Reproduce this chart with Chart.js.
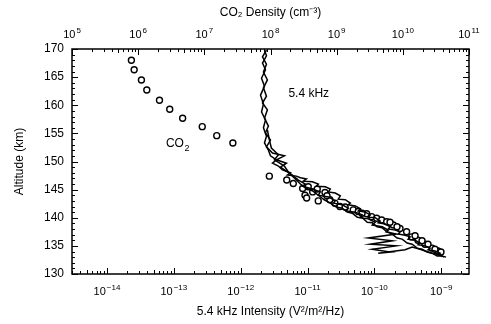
<!DOCTYPE html>
<html><head><meta charset="utf-8">
<script src="https://cdn.jsdelivr.net/npm/chart.js@4.4.1/dist/chart.umd.min.js"></script>
<style>html,body{margin:0;padding:0;background:#fff}canvas{display:block}</style>
</head><body>
<canvas id="c" width="491" height="324"></canvas>
<script>
// ---- tick values ----
const altTicks = [130, 135, 140, 145, 150, 155, 160, 165, 170];
const intensityTicks = [1e-14, 1e-13, 1e-12, 1e-11, 1e-10, 1e-9];
const densityTicks = [1e5, 1e6, 1e7, 1e8, 1e9, 1e10, 1e11];

// ---- 5.4 kHz intensity traces (altitude km, intensity V^2/m^2/Hz) ----
const trace1Alt = [169.8,168.8,167.5,166.3,164.8,163.4,161.8,160.2,158.8,157.4,156.0,154.5,153.3,152.0,151.0,150.3,149.7,149.2,148.5,
  148.0,147.6,147.4,147.1,146.9,146.5,146.4,146.0,145.6,145.5,145.1,144.6,144.4,143.9,143.3,143.2,142.6,142.3,142.1,141.6,141.2,141.0,
  140.5,140.1,140.0,139.4,139.1,138.9,138.4,138.0,137.8,137.5,137.1,136.9,136.6,136.2,136.0,135.5,135.2,135.0,134.6,134.3,134.1,133.7,133.4,133.0];
const trace1Int = [2.27e-12,2.43e-12,2.12e-12,2.35e-12,2.05e-12,2.27e-12,1.98e-12,2.19e-12,2.05e-12,2.35e-12,2.19e-12,2.43e-12,2.27e-12,2.60e-12,2.79e-12,3.43e-12,2.99e-12,3.67e-12,4.21e-12,
  5.55e-12,5.00e-12,6.81e-12,7.82e-12,9.62e-12,8.67e-12,1.18e-11,1.45e-11,1.36e-11,1.85e-11,2.19e-11,2.05e-11,2.60e-11,3.09e-11,2.88e-11,3.67e-11,4.36e-11,4.06e-11,5.18e-11,6.15e-11,5.74e-11,7.30e-11,
  8.67e-11,8.09e-11,1.03e-10,1.22e-10,1.14e-10,1.45e-10,1.72e-10,1.61e-10,2.05e-10,2.43e-10,2.27e-10,2.88e-10,3.43e-10,3.20e-10,4.06e-10,4.83e-10,4.51e-10,5.74e-10,6.81e-10,6.35e-10,8.09e-10,9.62e-10,8.97e-10,1.18e-9];

const trace2Alt = [169.8,168.6,167.3,165.9,164.5,163.1,161.6,160.4,159.2,157.7,156.3,155.1,153.8,152.6,151.5,151.0,150.3,149.7,149.0,
  147.6,146.7,146.0,145.6,145.1,144.6,144.0,143.7,143.0,142.6,142.3,141.7,141.2,141.0,140.5,140.0,139.8,139.2,138.7,138.4,137.8,137.5,137.1,
  136.4,135.9,135.3,135.0,134.4,133.9,133.7,134.3,134.8,134.4,134.1,133.7,133.4,133.0];
const trace2Int = [2.43e-12,2.12e-12,2.43e-12,2.19e-12,2.51e-12,2.19e-12,2.43e-12,2.12e-12,2.51e-12,2.27e-12,2.60e-12,2.35e-12,2.79e-12,2.43e-12,2.99e-12,4.51e-12,3.43e-12,4.83e-12,3.93e-12,
  5.94e-12,7.29e-12,9.29e-12,8.38e-12,1.18e-11,1.55e-11,1.45e-11,2.05e-11,2.60e-11,2.43e-11,3.31e-11,4.06e-11,3.80e-11,5.18e-11,6.58e-11,6.15e-11,8.09e-11,1.03e-10,9.29e-11,1.31e-10,1.61e-10,1.50e-10,2.12e-10,
  8.09e-11,1.85e-10,8.67e-11,2.12e-10,9.29e-11,1.72e-10,1.14e-10,2.88e-10,3.67e-10,4.83e-10,5.74e-10,7.30e-10,9.62e-10,1.10e-9];

const trace3Alt = [155.6,153.8,152.4,151.2,150.3,149.2,148.1,146.7,146.0,145.3,144.8,144.0,143.2,142.6,141.9,141.7,141.0,140.8,140.1,140.0,
  139.2,139.1,138.4,138.2,137.5,137.1,136.4,136.2,135.5,135.3,134.6,134.4,133.9,133.7,133.2,133.2];
const trace3Int = [2.51e-12,2.69e-12,2.88e-12,3.67e-12,3.20e-12,4.51e-12,5.18e-12,6.81e-12,7.82e-12,9.29e-12,1.18e-11,1.45e-11,1.78e-11,2.19e-11,2.69e-11,3.31e-11,3.93e-11,4.67e-11,5.55e-11,6.58e-11,
  7.82e-11,9.29e-11,1.10e-10,1.31e-10,1.55e-10,1.85e-10,2.19e-10,2.60e-10,3.09e-10,3.67e-10,4.36e-10,5.18e-10,6.15e-10,7.30e-10,8.67e-10,1.03e-9];

// ---- CO2 density (altitude km, density cm^-3) ----
const co2Alt = [168.0,166.3,164.5,162.7,160.9,159.3,157.7,156.2,154.6,153.3,
  147.4,146.7,146.1,145.2,145.5,144.6,145.1,144.0,143.5,143.0,
  144.5,143.2,142.6,142.0,141.4,141.1,140.7,140.2,139.9,139.6,
  139.3,138.7,138.1,137.5,136.6,136.0,135.3,134.6,134.1,
  143.9,141.9,140.8,139.2,138.4,136.8,135.9,135.3,134.4,133.9];
const co2Density = [7.9e5,8.7e5,1.12e6,1.35e6,2.1e6,3.0e6,4.7e6,9.3e6,1.54e7,2.7e7,
  9.6e7,1.76e8,2.21e8,3.06e8,3.72e8,4.34e8,5.09e8,3.32e8,3.52e8,5.27e8,
  6.66e8,7.9e8,9.4e8,1.12e9,1.78e9,2.12e9,2.84e9,3.38e9,4.03e9,4.79e9,
  5.70e9,7.18e9,9.06e9,1.14e10,1.36e10,1.69e10,2.16e10,2.76e10,3.40e10,
  7.14e8,1.34e9,2.42e9,6.40e9,8.17e9,1.53e10,1.95e10,2.40e10,3.06e10,3.77e10];

const zip = (xs, ys) => xs.map((x, i) => ({x: x, y: ys[i]}));
const FAM = '"Liberation Sans", Arial, Helvetica, sans-serif';

function drawPow(ctx, v, px, baseY) {
  const exp = String(Math.round(Math.log10(v))).replace('-', '\u2212');
  ctx.font = '11px ' + FAM; const w1 = ctx.measureText('10').width;
  ctx.font = '8px ' + FAM; const w2 = ctx.measureText(exp).width;
  const x0 = px - (w1 + w2 + 1) / 2;
  ctx.textAlign = 'left'; ctx.textBaseline = 'alphabetic';
  ctx.font = '11px ' + FAM; ctx.fillText('10', x0, baseY);
  ctx.font = '8px ' + FAM; ctx.fillText(exp, x0 + w1 + 1, baseY - 5);
}

const frame = {
  id: 'frame',
  afterDraw(chart) {
    const {ctx, chartArea: a, scales} = chart;
    const y = scales.y, xb = scales.xBottom, xt = scales.xTop;
    ctx.save();
    ctx.strokeStyle = '#000';
    ctx.lineWidth = 1;
    ctx.beginPath();
    for (let v = 130; v <= 170; v++) {
      const py = Math.round(y.getPixelForValue(v)) + 0.5;
      const L = v % 5 === 0 ? 6 : 3;
      ctx.moveTo(a.left, py); ctx.lineTo(a.left + L, py);
      ctx.moveTo(a.right, py); ctx.lineTo(a.right - L, py);
    }
    for (let e = -15; e <= -8; e++) for (let m = 1; m <= 9; m++) {
      const v = m * Math.pow(10, e);
      if (v < xb.min || v > xb.max) continue;
      const px = Math.round(xb.getPixelForValue(v)) + 0.5;
      const L = m === 1 ? 6 : (m === 5 ? 4 : 3);
      ctx.moveTo(px, a.bottom); ctx.lineTo(px, a.bottom - L);
    }
    for (let e = 5; e <= 11; e++) for (let m = 1; m <= 9; m++) {
      const v = m * Math.pow(10, e);
      if (v < xt.min || v > xt.max) continue;
      const px = Math.round(xt.getPixelForValue(v)) + 0.5;
      const L = m === 1 ? 6 : (m === 5 ? 4 : 3);
      ctx.moveTo(px, a.top); ctx.lineTo(px, a.top + L);
    }
    ctx.stroke();
    ctx.lineWidth = 1.5;
    ctx.strokeRect(a.left, a.top, a.right - a.left, a.bottom - a.top);
    ctx.fillStyle = '#000';
    // power-of-ten tick labels with raised exponents
    xb.ticks.forEach(t => drawPow(ctx, t.value, xb.getPixelForValue(t.value), a.bottom + 21));
    xt.ticks.forEach(t => drawPow(ctx, t.value, xt.getPixelForValue(t.value), a.top - 11));
    // in-plot labels
    ctx.textBaseline = 'middle';
    ctx.textAlign = 'left';
    ctx.font = '12px ' + FAM;
    ctx.fillText('5.4 kHz', xb.getPixelForValue(5.18e-12), y.getPixelForValue(162.1));
    ctx.fillText('CO', xt.getPixelForValue(2.63e6), y.getPixelForValue(153.1));
    const wCO = ctx.measureText('CO').width;
    ctx.font = '9px ' + FAM;
    ctx.fillText('2', xt.getPixelForValue(2.63e6) + wCO + 0.5, y.getPixelForValue(153.1) + 4);
    ctx.restore();
  }
};

const lineDs = (label, xs, ys) => ({
  label, data: zip(xs, ys), xAxisID: 'xBottom', yAxisID: 'y', showLine: true,
  borderColor: '#000', borderWidth: 1.5, pointRadius: 0, tension: 0, order: 0
});

new Chart(document.getElementById('c'), {
  type: 'scatter',
  data: {
    datasets: [
      lineDs('5.4 kHz (1)', trace1Int, trace1Alt),
      lineDs('5.4 kHz (2)', trace2Int, trace2Alt),
      lineDs('5.4 kHz (3)', trace3Int, trace3Alt),
      {label: 'CO2', data: zip(co2Density, co2Alt), xAxisID: 'xTop', yAxisID: 'y', showLine: false,
       pointRadius: 3, pointBorderWidth: 1.4, pointBorderColor: '#000', pointBackgroundColor: '#fff', order: 1}
    ]
  },
  options: {
    responsive: false, animation: false, devicePixelRatio: 1,
    layout: {padding: {left: 0, right: 22, top: 0, bottom: 0}},
    plugins: {legend: {display: false}, tooltip: {enabled: false}},
    scales: {
      xBottom: {
        type: 'logarithmic', position: 'bottom', min: 3.09e-15, max: 2.6e-9,
        afterBuildTicks: s => { s.ticks = intensityTicks.map(v => ({value: v})); },
        afterFit: s => { s.height = 50; s.paddingLeft = 0; s.paddingRight = 0; },
        grid: {display: false, drawTicks: false}, border: {display: false},
        ticks: {display: false},
        title: {display: true, text: '5.4 kHz Intensity (V\u00B2/m\u00B2/Hz)', color: '#000', font: {family: FAM, size: 12}, padding: {top: 0, bottom: 5}}
      },
      xTop: {
        type: 'logarithmic', position: 'top', min: 1e5, max: 1e11,
        afterBuildTicks: s => { s.ticks = densityTicks.map(v => ({value: v})); },
        afterFit: s => { s.height = 49; s.paddingLeft = 0; s.paddingRight = 0; },
        grid: {display: false, drawTicks: false}, border: {display: false},
        ticks: {display: false},
        title: {display: true, text: 'CO\u2082 Density (cm\u207B\u00B3)', color: '#000', font: {family: FAM, size: 12}, padding: {top: 5, bottom: 0}}
      },
      y: {
        type: 'linear', position: 'left', min: 130, max: 170,
        afterBuildTicks: s => { s.ticks = altTicks.map(v => ({value: v})); },
        afterFit: s => { s.width = 72; s.paddingTop = 0; s.paddingBottom = 0; },
        grid: {display: false, drawTicks: false}, border: {display: false},
        ticks: {autoSkip: false, padding: 8, color: '#000', font: {family: FAM, size: 12}},
        title: {display: true, text: 'Altitude (km)', color: '#000', font: {family: FAM, size: 12}, padding: {top: 12, bottom: 0}}
      }
    }
  },
  plugins: [frame]
});
</script>
</body></html>
